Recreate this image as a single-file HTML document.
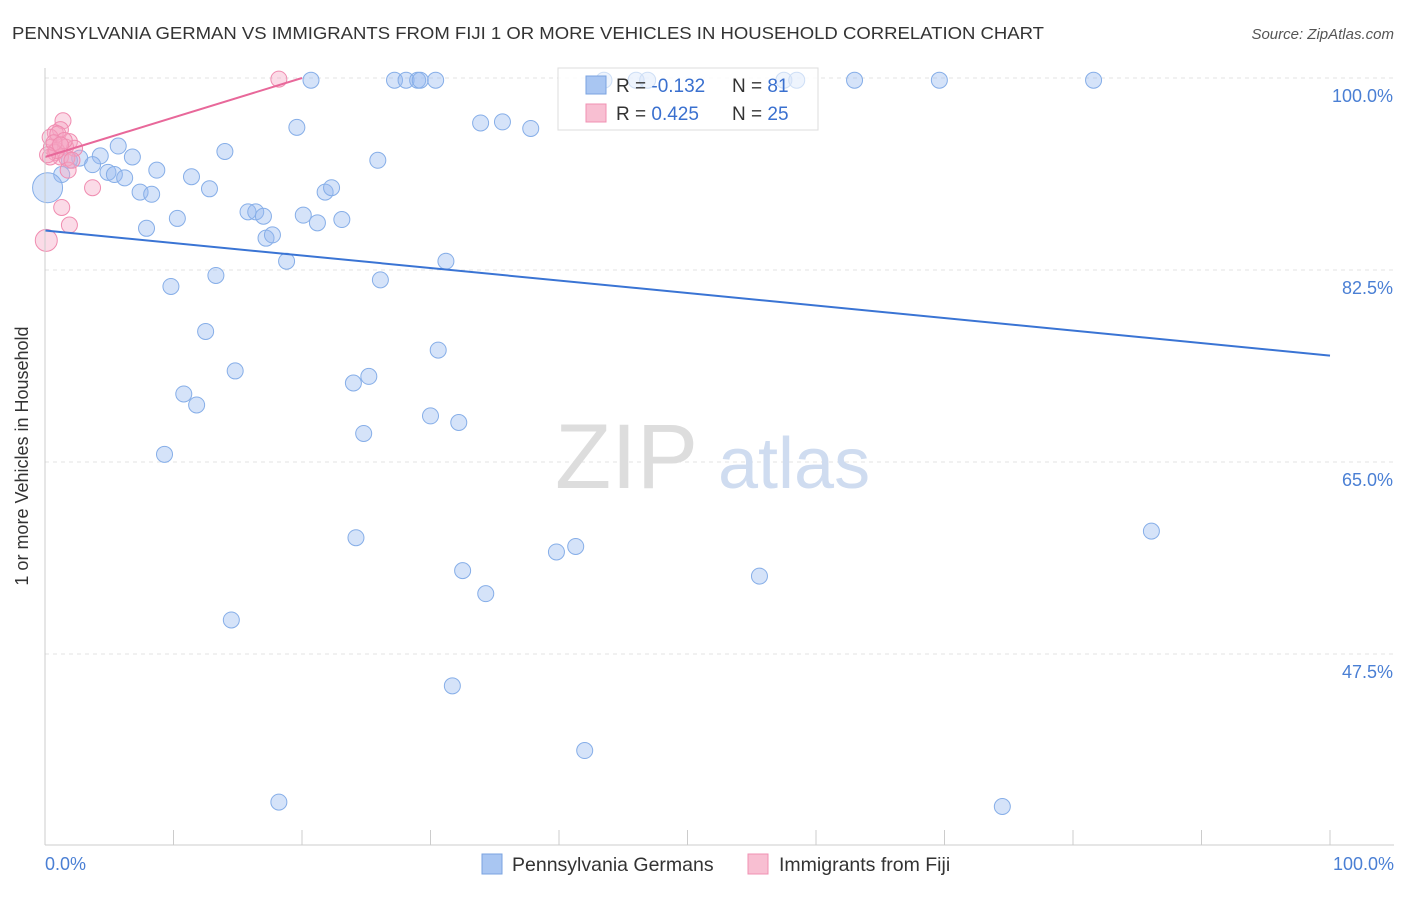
<!DOCTYPE html>
<html><head><meta charset="utf-8"><style>
body{margin:0;background:#fff;font-family:"Liberation Sans",sans-serif}
svg text{font-family:"Liberation Sans",sans-serif}
</style></head><body>
<svg width="1406" height="892" viewBox="0 0 1406 892">
<text x="12" y="39" font-size="17.5" fill="#333" textLength="1032" lengthAdjust="spacingAndGlyphs">PENNSYLVANIA GERMAN VS IMMIGRANTS FROM FIJI 1 OR MORE VEHICLES IN HOUSEHOLD CORRELATION CHART</text>
<text x="1394" y="39" font-size="15" fill="#555" text-anchor="end" font-style="italic">Source: ZipAtlas.com</text>
<g id="grid"></g>
<g><text x="555" y="488" font-size="92" fill="#ddd" font-family="Liberation Serif">ZIP</text><text x="718" y="488" font-size="72" fill="#cfdcf0">atlas</text></g>
<g><rect x="558" y="68" width="260" height="62" fill="#fff" fill-opacity="0.6" stroke="#ddd"/></g>
<g id="pts"></g>
<g id="trend"></g>
<line x1="45" y1="68" x2="45" y2="845" stroke="#ccc"/>
<line x1="45" y1="845" x2="1394" y2="845" stroke="#ccc"/>
<g id="xt"></g>
<text x="28" y="456" font-size="18" fill="#333" text-anchor="middle" transform="rotate(-90 28 456)">1 or more Vehicles in Household</text>
<text x="45" y="870" font-size="18" fill="#4a7fd4">0.0%</text>
<text x="1394" y="870" font-size="18" fill="#4a7fd4" text-anchor="end">100.0%</text>
<g>
<rect x="558" y="68" width="260" height="62" fill="#fff" fill-opacity="0.6" stroke="#ddd"/>
<rect x="586" y="76" width="20" height="18" fill="#a9c6f2" stroke="#7aa3e0"/>
<rect x="586" y="104" width="20" height="18" fill="#f8bfd2" stroke="#f090b3"/>
<text x="616" y="92" font-size="19" fill="#333">R = <tspan fill="#3a70cf">-0.132</tspan></text>
<text x="732" y="92" font-size="19" fill="#333">N = <tspan fill="#3a70cf">81</tspan></text>
<text x="616" y="120" font-size="19" fill="#333">R = <tspan fill="#3a70cf">0.425</tspan></text>
<text x="732" y="120" font-size="19" fill="#333">N = <tspan fill="#3a70cf">25</tspan></text>
</g>
<g>
<rect x="482" y="854" width="20" height="20" fill="#a9c6f2" stroke="#7aa3e0"/>
<text x="512" y="871" font-size="19.5" fill="#333">Pennsylvania Germans</text>
<rect x="748" y="854" width="20" height="20" fill="#f8bfd2" stroke="#f090b3"/>
<text x="779" y="871" font-size="19.5" fill="#333">Immigrants from Fiji</text>
</g>
</svg>
<script>
const yTicks=[100,82.5,65,47.5];
const yTickLabels=["100.0%","82.5%","65.0%","47.5%"];
const xTicks=[0,10,20,30,40,50,60,70,80,90,100];
const blueX=[20.7,27.2,28.1,29.0,29.2,30.4,43.5,46.0,46.9,57.5,58.5,63.0,69.6,81.6,19.6,33.9,35.6,37.8,5.7,4.3,2.7,1.9,3.7,6.8,14.0,25.9,1.3,4.9,5.4,6.2,8.7,11.4,7.4,8.3,12.8,21.8,22.3,0.2,10.3,7.9,15.8,16.4,17.0,20.1,21.2,23.1,17.2,17.7,18.8,31.2,13.3,9.8,26.1,12.5,30.6,14.8,25.2,24.0,10.8,11.8,30.0,32.2,24.8,9.3,24.2,39.8,41.3,86.1,32.5,55.6,34.3,14.5,31.7,42.0,18.2,74.5];
const blueY=[99.8,99.8,99.8,99.8,99.8,99.8,99.8,99.8,99.8,99.8,99.8,99.8,99.8,99.8,95.5,95.9,96.0,95.4,93.8,92.9,92.7,92.5,92.1,92.8,93.3,92.5,91.2,91.4,91.2,90.9,91.6,91.0,89.6,89.4,89.9,89.6,90.0,90.0,87.2,86.3,87.8,87.8,87.4,87.5,86.8,87.1,85.4,85.7,83.3,83.3,82.0,81.0,81.6,76.9,75.2,73.3,72.8,72.2,71.2,70.2,69.2,68.6,67.6,65.7,58.1,56.8,57.3,58.7,55.1,54.6,53.0,50.6,44.6,38.7,34.0,33.6];
const pinkX=[18.2,1.4,1.2,0.8,0.4,1.0,1.9,0.5,1.6,2.3,0.8,1.2,1.7,0.4,1.8,3.7,1.3,1.9,0.1,0.9,1.5,0.7,2.1,0.2,1.2];
const pinkY=[99.9,96.1,95.3,95.0,94.6,94.9,94.2,93.7,93.7,93.6,93.2,92.8,92.7,92.8,91.6,90.0,88.2,86.6,85.2,93.4,94.3,94.1,92.5,93.0,93.9];
const blueTrend=[86.1,74.7];
const pinkTrend=[92.8,100];
const NS="http://www.w3.org/2000/svg";
const sx=v=>45+v*12.85, sy=v=>78+(100-v)*192/17.5;
function mk(t,a,p){const e=document.createElementNS(NS,t);for(const k in a)e.setAttribute(k,a[k]);p.appendChild(e);return e;}
const grid=document.getElementById('grid');
yTicks.forEach((t,i)=>{
 const l=mk('line',{x1:45,x2:1394,y1:sy(t),y2:sy(t),stroke:'#e3e3e3','stroke-dasharray':'4,4'},grid);
 
 
 const tx=mk('text',{x:1393,y:sy(t)+24,'font-size':18,fill:'#4a7fd4','text-anchor':'end'},grid);
 tx.textContent=yTickLabels[i];
 
 
});
const xt=document.getElementById('xt');
xTicks.forEach(t=>{
 const l=mk('line',{x1:sx(t),x2:sx(t),y1:830,y2:845,stroke:'#ccc'},xt);
 
 
});
const pts=document.getElementById('pts');
blueX.forEach((x,i)=>{
 const c=mk('circle',{cx:sx(x),cy:sy(blueY[i]),r:(i==37?15:8),fill:'rgba(150,185,240,0.4)',stroke:'#86aee8','stroke-width':1},pts);
 
 
});
pinkX.forEach((x,i)=>{
 const c=mk('circle',{cx:sx(x),cy:sy(pinkY[i]),r:(i==18?11:8),fill:'rgba(245,165,195,0.4)',stroke:'#f08cb0','stroke-width':1},pts);
 
 
});
const tr=document.getElementById('trend');
const b=mk('line',{x1:sx(0),y1:sy(blueTrend[0]),x2:sx(100),y2:sy(blueTrend[1]),stroke:'#3a74d4','stroke-width':2},tr);


const p=mk('line',{x1:sx(0),y1:sy(pinkTrend[0]),x2:sx(20),y2:sy(pinkTrend[1]),stroke:'#e8689a','stroke-width':2},tr);


</script>
</body></html>
